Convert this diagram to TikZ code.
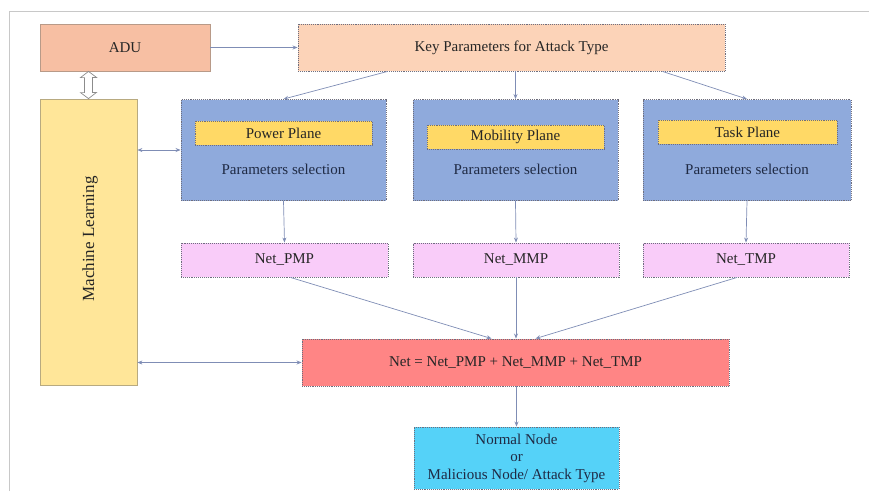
\documentclass[tikz,border=0pt]{standalone}
\usepackage{fontspec}
\setmainfont{Liberation Serif}
\usetikzlibrary{arrows.meta}
\definecolor{frameC}{HTML}{C8C8C8}
\definecolor{aduF}{HTML}{F7BFA3}
\definecolor{aduD}{HTML}{B89A88}
\definecolor{keyF}{HTML}{FCD3B8}
\definecolor{dotD}{HTML}{6E6E7E}
\definecolor{mlF}{HTML}{FFE699}
\definecolor{mlD}{HTML}{B8AA80}
\definecolor{blueF}{HTML}{8FAADC}
\definecolor{yelF}{HTML}{FFD966}
\definecolor{pinkF}{HTML}{F9CCF9}
\definecolor{redF}{HTML}{FF8585}
\definecolor{cyanF}{HTML}{55D2F8}
\definecolor{arrC}{HTML}{7F8DB5}
\definecolor{txtC}{HTML}{1F2A44}
\tikzset{
  box/.style={rectangle, inner sep=0pt, font=\fontsize{15}{17}\selectfont, text=black!85},
  dotbox/.style={box, draw=dotD, densely dotted, line width=0.9pt},
  solidbox/.style={box, line width=0.8pt},
  conn/.style={draw=arrC, line width=0.7pt, -{Stealth[length=5pt,width=4pt]}},
  conn2/.style={draw=arrC, line width=0.7pt, {Stealth[length=5pt,width=4pt]}-{Stealth[length=5pt,width=4pt]}},
}
\begin{document}
\begin{tikzpicture}[x=1pt,y=-1pt]
\useasboundingbox (0,0) rectangle (869,491);
% frame
\draw[frameC, line width=1pt] (9,491) -- (9,11) -- (869,11);
% top row
\node[solidbox, fill=aduF, draw=aduD, minimum width=170pt, minimum height=47pt] (adu) at (125,47.5) {ADU};
\node[dotbox, fill=keyF, minimum width=427pt, minimum height=47pt] (key) at (511.5,47.5) {Key Parameters for Attack Type};
% machine learning
\node[solidbox, fill=mlF, draw=mlD, minimum width=97pt, minimum height=286pt] (ml) at (88.5,242) {};
\node[box, rotate=90, font=\fontsize{17}{19}\selectfont] (mltxt) at (90,239) {Machine Learning};
% planes
\node[dotbox, fill=blueF, minimum width=205pt, minimum height=101pt] (pw) at (283.5,150) {};
\node[dotbox, fill=yelF, minimum width=177pt, minimum height=24pt] (pwp) at (283.5,133) {Power Plane};
\node[box, text=txtC] (pws) at (283.5,169.5) {Parameters selection};
\node[dotbox, fill=blueF, minimum width=205pt, minimum height=101pt] (mb) at (515.5,150) {};
\node[dotbox, fill=yelF, minimum width=177pt, minimum height=24pt] (mbp) at (515.5,137) {Mobility Plane};
\node[box, text=txtC] (mbs) at (515.5,169.5) {Parameters selection};
\node[dotbox, fill=blueF, minimum width=208pt, minimum height=101pt] (tk) at (747,150) {};
\node[dotbox, fill=yelF, minimum width=179pt, minimum height=24pt] (tkp) at (747.5,132) {Task Plane};
\node[box, text=txtC] (tks) at (747,169.5) {Parameters selection};
% net boxes
\node[dotbox, fill=pinkF, minimum width=207pt, minimum height=34pt] (npmp) at (284.5,260) {Net\_PMP};
\node[dotbox, fill=pinkF, minimum width=206pt, minimum height=34pt] (nmmp) at (516,260) {Net\_MMP};
\node[dotbox, fill=pinkF, minimum width=206pt, minimum height=34pt] (ntmp) at (746,260) {Net\_TMP};
\node[dotbox, fill=redF, minimum width=427pt, minimum height=47pt] (net) at (515.5,362.5) {Net = Net\_PMP + Net\_MMP + Net\_TMP};
\node[dotbox, fill=cyanF, minimum width=205pt, minimum height=62pt, align=center, text=txtC, font=\fontsize{15}{17.5}\selectfont] (res) at (516.5,458) {Normal Node\\or\\Malicious Node/ Attack Type};
% connectors
\draw[conn] (adu.east) -- (key.west);
\draw[conn] ([xshift=-124pt]key.south) -- (pw.north);
\draw[conn] (key.south -| mb.north) -- (mb.north);
\draw[conn] ([xshift=151pt]key.south) -- (tk.north);
\draw[conn] (pw.south) -- (npmp.north);
\draw[conn] (mb.south) -- (nmmp.north);
\draw[conn] (tk.south) -- (ntmp.north);
\draw[conn] ([xshift=6pt]npmp.south) -- ([xshift=-24pt]net.north);
\draw[conn] (nmmp.south) -- (nmmp.south |- net.north);
\draw[conn] ([xshift=-9pt]ntmp.south) -- ([xshift=20pt]net.north);
\draw[conn] (net.south -| res.north) -- (res.north);
\draw[conn2] (ml.east |- pw.west) -- (pw.west);
\draw[conn2] (ml.east |- net.west) -- (net.west);
% hollow double arrow between ADU and ML
\coordinate (dtop) at (ml.north |- adu.south);
\draw[draw=black!45, fill=white, line width=0.7pt] (dtop) -- ++(8,6) -- ++(-4,0) -- ++(0,15) -- ++(4,0) -- (ml.north) -- ++(-8,-6) -- ++(4,0) -- ++(0,-15) -- ++(-4,0) -- cycle;
\end{tikzpicture}
\end{document}
